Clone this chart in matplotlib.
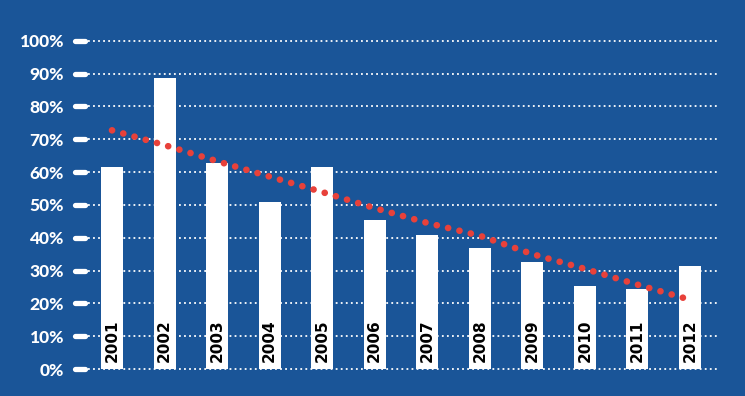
import matplotlib
matplotlib.use("Agg")
import matplotlib.pyplot as plt
import matplotlib.transforms as mtransforms

years = ["2001", "2002", "2003", "2004", "2005", "2006",
         "2007", "2008", "2009", "2010", "2011", "2012"]
values = [61.5, 88.5, 62.7, 50.8, 61.4, 45.4, 40.7, 36.9, 32.7, 25.3, 24.3, 31.3]
trend = [72.7, 68.2, 63.3, 58.6, 53.9, 49.0, 44.5, 40.6, 35.0, 30.5, 25.7, 21.1]
yticks = [0, 10, 20, 30, 40, 50, 60, 70, 80, 90, 100]
ytick_labels = [f"{v}%" for v in yticks]

BG = "#1a5598"
RED = "#e8413a"

fig = plt.figure(figsize=(7.45, 3.96), dpi=100, facecolor=BG)
ax = fig.add_axes([88/745, 27/396, 630/745, 328.3/396], facecolor=BG)

x = list(range(len(years)))
ax.set_xlim(-24/52.5, 11 + 28/52.5)
ax.set_ylim(0, 100)

# grid lines
for v in yticks:
    ax.axhline(v, color="white", lw=1.3, linestyle=(0, (1, 1.8)), zorder=1, clip_on=False)

# tick marks (rounded white dashes)
trans = mtransforms.blended_transform_factory(ax.transAxes, ax.transData)
for v in yticks:
    ax.plot([-0.0214, -0.004], [v, v], transform=trans, color="white", lw=3.8,
            solid_capstyle="round", clip_on=False, zorder=3)

# bars
ax.bar(x, values, width=0.42, color="white", zorder=2)

# year labels inside bars
for xi, yr in zip(x, years):
    ax.text(xi, 2.0, yr, rotation=90, ha="center", va="bottom", color="black",
            fontsize=11, fontweight="bold", family="DejaVu Sans", zorder=4)

# trend line (dotted red)
ax.plot(x, trend, color=RED, lw=4.8, linestyle=(0, (0.01, 1.74)),
        dash_capstyle="round", solid_capstyle="round", zorder=5, clip_on=False)

ax.set_xticks([])
ax.set_yticks(yticks)
ax.set_yticklabels(ytick_labels, fontsize=12.5, fontweight="black",
                   color="white", family="Lato")
ax.tick_params(axis="y", length=0, pad=24/1.389)
for s in ax.spines.values():
    s.set_visible(False)

fig.savefig("out.png", dpi=100, facecolor=BG)
